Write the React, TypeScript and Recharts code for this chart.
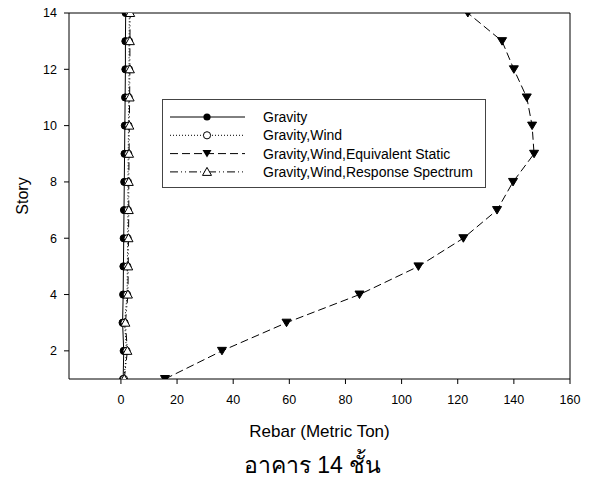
import { Label, Line, LineChart, ReferenceLine, XAxis, YAxis } from 'recharts'

const stories = [1, 2, 3, 4, 5, 6, 7, 8, 9, 10, 11, 12, 13, 14]
const gravity = [0.8, 1.0, 0.6, 0.8, 0.9, 1.0, 1.1, 1.2, 1.3, 1.4, 1.5, 1.6, 1.6, 1.7]
const gravityWind = [1.1, 2.0, 1.3, 2.2, 2.3, 2.4, 2.5, 2.5, 2.6, 2.7, 2.8, 2.9, 2.9, 3.0]
const equivalentStatic = [15.7, 36, 59, 85, 106, 122, 134, 139.7, 147.2, 146.5, 144.6, 140, 135.8, 123.6]
const responseSpectrum = [1.2, 2.3, 1.6, 2.5, 2.6, 2.7, 2.8, 2.8, 2.9, 3.0, 3.1, 3.2, 3.2, 3.3]
const xTicks = [0, 20, 40, 60, 80, 100, 120, 140, 160]
const yTicks = [2, 4, 6, 8, 10, 12, 14]

const data = stories.map((story, i) => ({
  story,
  gravity: gravity[i],
  gravityWind: gravityWind[i],
  equivalentStatic: equivalentStatic[i],
  responseSpectrum: responseSpectrum[i],
}))

const font = '"Liberation Sans", Arial, sans-serif'

const circleDot = (fill: string) => (props: any) => (
  <circle key={`c-${fill}-${props.index}`} cx={props.cx} cy={props.cy} r={3.6} fill={fill} stroke="#000" strokeWidth={1} />
)

const triDown = (props: any) => {
  const { cx, cy } = props
  return (
    <path
      key={`td-${props.index}`}
      d={`M${cx - 4.5},${cy - 3.5}L${cx + 4.5},${cy - 3.5}L${cx},${cy + 4}Z`}
      fill="#000"
      stroke="#000"
      strokeWidth={1}
    />
  )
}

const triUp = (props: any) => {
  const { cx, cy } = props
  return (
    <path
      key={`tu-${props.index}`}
      d={`M${cx},${cy - 4.5}L${cx + 4.5},${cy + 3.5}L${cx - 4.5},${cy + 3.5}Z`}
      fill="#fff"
      stroke="#000"
      strokeWidth={1}
    />
  )
}

const legendRows = [
  { label: 'Gravity', dash: undefined, marker: 'filled' },
  { label: 'Gravity,Wind', dash: '1 2', marker: 'open' },
  { label: 'Gravity,Wind,Equivalent Static', dash: '8 4', marker: 'down' },
  { label: 'Gravity,Wind,Response Spectrum', dash: '8 3 1 3 1 3', marker: 'up' },
]

// legend box sits inside the plot, so it is overlaid rather than given its own space
const ChartLegend = () => (
  <svg width={324} height={89} style={{ position: 'absolute', left: 162, top: 99, display: 'block' }}>
    <rect x={0.5} y={0.5} width={323} height={88} fill="#fff" stroke="#444" />
    {legendRows.map((row, i) => {
      const y = 18 + i * 18.3
      const mx = 45
      return (
        <g key={row.label}>
          <line x1={8} x2={83} y1={y} y2={y} stroke="#000" strokeDasharray={row.dash} />
          {row.marker === 'filled' && <circle cx={mx} cy={y} r={3.6} fill="#000" />}
          {row.marker === 'open' && <circle cx={mx} cy={y} r={3.6} fill="#fff" stroke="#000" />}
          {row.marker === 'down' && (
            <path d={`M${mx - 4.5},${y - 3.5}L${mx + 4.5},${y - 3.5}L${mx},${y + 4}Z`} fill="#000" />
          )}
          {row.marker === 'up' && (
            <path d={`M${mx},${y - 4.5}L${mx + 4.5},${y + 3.5}L${mx - 4.5},${y + 3.5}Z`} fill="#fff" stroke="#000" />
          )}
          <text x={101} y={y} dy="0.35em" fontSize={14} fontFamily={font} fill="#000">
            {row.label}
          </text>
        </g>
      )
    })}
  </svg>
)

const StoryLabel = (props: any) => {
  const vb = props.viewBox
  const cy = vb.y + vb.height / 2
  return (
    <text x={22} y={cy} transform={`rotate(-90 22 ${cy})`} textAnchor="middle" dy="0.35em" fontSize={16} fontFamily={font} fill="#000">
      Story
    </text>
  )
}

const RebarLabel = (props: any) => {
  const vb = props.viewBox
  const cx = vb.x + vb.width / 2
  return (
    <g>
      <text x={cx} y={vb.y + 52} textAnchor="middle" dy="0.35em" fontSize={17} fontFamily={font} fill="#000">
        Rebar (Metric Ton)
      </text>
      <text x={cx - 7} y={vb.y + 86} textAnchor="middle" dy="0.35em" fontSize={23} fontWeight={300} fontFamily={font} fill="#000">
        อาคาร 14 ชั้น
      </text>
    </g>
  )
}

export default function App() {
  return (
    <div style={{ position: 'absolute', left: 0, top: 0, width: 592, height: 488, background: '#fff' }}>
      <LineChart
        width={592}
        height={488}
        data={data}
        layout="vertical"
        margin={{ top: 13, right: 22, left: 0, bottom: 79 }}
      >
        <XAxis
          type="number"
          domain={[-18.5, 160]}
          ticks={xTicks}
          allowDataOverflow
          height={30}
          tickSize={5}
          tickMargin={11}
          axisLine={{ stroke: '#000' }}
          tickLine={{ stroke: '#000' }}
          tick={{ fontSize: 12.5, fill: '#000', fontFamily: font }}
        >
          <Label content={RebarLabel} />
        </XAxis>
        <YAxis
          type="number"
          dataKey="story"
          domain={[1, 14]}
          ticks={yTicks}
          reversed
          allowDataOverflow
          width={69}
          tickSize={5}
          tickMargin={7}
          axisLine={{ stroke: '#000' }}
          tickLine={{ stroke: '#000' }}
          tick={{ fontSize: 12.5, fill: '#000', fontFamily: font }}
        >
          <Label content={StoryLabel} />
        </YAxis>
        <ReferenceLine y={14} stroke="#000" />
        <ReferenceLine x={160} stroke="#000" />
        <Line
          dataKey="gravity"
          name="Gravity"
          stroke="#000"
          strokeWidth={1}
          dot={circleDot('#000')}
          isAnimationActive={false}
        />
        <Line
          dataKey="gravityWind"
          name="Gravity,Wind"
          stroke="#000"
          strokeWidth={1}
          strokeDasharray="1 2"
          dot={circleDot('#fff')}
          isAnimationActive={false}
        />
        <Line
          dataKey="equivalentStatic"
          name="Gravity,Wind,Equivalent Static"
          stroke="#000"
          strokeWidth={1}
          strokeDasharray="8 4"
          dot={triDown}
          isAnimationActive={false}
        />
        <Line
          dataKey="responseSpectrum"
          name="Gravity,Wind,Response Spectrum"
          stroke="#000"
          strokeWidth={1}
          strokeDasharray="8 3 1 3 1 3"
          dot={triUp}
          isAnimationActive={false}
        />
      </LineChart>
      <ChartLegend />
    </div>
  )
}
